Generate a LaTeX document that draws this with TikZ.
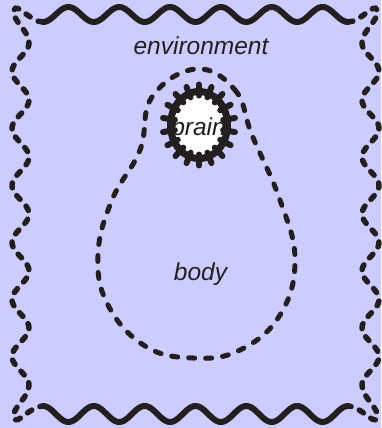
\documentclass[tikz,border=0pt]{standalone}
\usepackage{fontspec}
\newfontfamily\labelfont{Liberation Sans}
\definecolor{bgblue}{RGB}{204,204,255}
\definecolor{ink}{RGB}{35,31,32}
\begin{document}
\begin{tikzpicture}[x=1pt,y=-1pt,
  solidwave/.style={draw=ink,line width=6pt,line cap=round,line join=round},
  dashwave/.style={draw=ink,line width=5.5pt,line cap=round,dash pattern=on 5pt off 9pt},
  bodyline/.style={draw=ink,line width=5pt,line cap=round,dash pattern=on 6pt off 11pt},
  spike/.style={draw=ink,line width=6pt,line cap=round},
  label/.style={text=ink,font=\labelfont\itshape\fontsize{24.5}{28}\selectfont,inner sep=0pt,anchor=base}]
\useasboundingbox (0,0) rectangle (381,428);
\fill[bgblue] (0,0) rectangle (381,428);
% top and bottom waves
\draw[solidwave] plot[domain=43:348,samples=180] (\x,{14.5+7.5*cos(7.0821*(\x-43))});
\draw[solidwave] plot[domain=43:348,samples=180] (\x,{414-8*cos(7.0821*(\x-43))});
% left side with corners
\draw[dashwave] (43,22) .. controls (30,22) and (17,2) .. (14,10)
  .. controls (11,20) and (29,30) .. (29,43)
  -- plot[domain=43:385,samples=160] ({20.5+8.5*cos(6.3158*(\x-43))},\x)
  .. controls (29,398) and (11,408) .. (14,418)
  .. controls (17,426) and (30,406) .. (43,406);
% right side with corners
\draw[dashwave] (348,22) .. controls (361,22) and (374,2) .. (377,10)
  .. controls (380,20) and (362,30) .. (362,43)
  -- plot[domain=43:385,samples=160] ({370.5-8.5*cos(6.3158*(\x-43))},\x)
  .. controls (362,398) and (380,408) .. (377,418)
  .. controls (374,426) and (361,406) .. (348,406);
% body
\draw[bodyline] plot[smooth cycle,tension=0.7] coordinates {
  (196,69) (235,90) (252,135) (280,200) (295,260) (280,315) (240,350)
  (193,358) (145,346) (108,305) (98,255) (112,200) (140,150) (152,97)};
% brain
\fill[white] (199,125) ellipse [x radius=28.5, y radius=33.5];
\foreach \t in {10,30,...,350}
  \draw[spike] ({199+24.5*cos(\t)},{125+29.5*sin(\t)}) -- ({199+36.5*cos(\t)},{125+40.5*sin(\t)});
\draw[ink,line width=7pt] (199,125) ellipse [x radius=28.5, y radius=33.5];
% labels
\node[label] (env) at (201,55) {environment};
\node[label] (body) at (200.5,280) {body};
\node[label] (brain) at (198.5,135) {brain};
\end{tikzpicture}
\end{document}
